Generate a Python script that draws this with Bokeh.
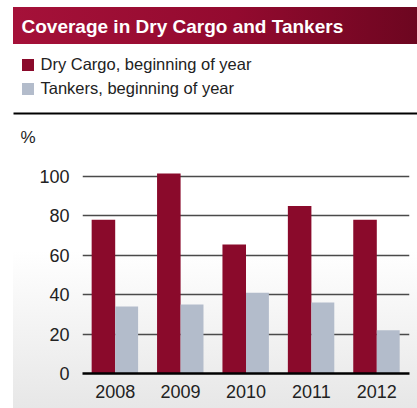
from bokeh.plotting import figure
from bokeh.models import (ColumnDataSource, FactorRange, Range1d, FixedTicker, Legend,
                          LegendItem, Label, BoxAnnotation)
from bokeh.layouts import column
from bokeh.transform import dodge
from bokeh.embed import file_html
from bokeh.resources import INLINE

title_text = "Coverage in Dry Cargo and Tankers"
years = ["2008", "2009", "2010", "2011", "2012"]
dry_cargo = [78, 101.5, 65.5, 85, 78]
tankers = [34, 35, 41, 36, 22]
series_names = ["Dry Cargo, beginning of year", "Tankers, beginning of year"]
y_ticks = [0, 20, 40, 60, 80, 100]
unit_label = "%"

FONT = "Liberation Sans"
DRY = "#8a0a2b"
TANK = "#b3bccb"
TXT = "#222222"

# ---------- header: title bar, legend, rule, unit label ----------
hdr = figure(width=417, height=150, x_range=Range1d(0, 417), y_range=Range1d(150, 0),
             x_axis_type=None, y_axis_type=None,
             output_backend="svg", toolbar_location=None,
             min_border=0, background_fill_color=None, border_fill_color=None,
             outline_line_color=None)
hdr.grid.visible = False
hdr.styles = {"background-image": "linear-gradient(to right, #a51139, #930a2f 55%, #6d0620)",
              "background-repeat": "no-repeat", "background-position": "13px 7px",
              "background-size": "404px 37px"}

hdr.add_layout(Label(x=21, y=25.5, text=title_text, text_font=FONT, text_font_size="19px",
                     text_font_style="bold", text_color="white", text_baseline="middle"))

# legend keys (zero-size glyphs, only their legend swatches are shown)
k1 = hdr.vbar(x=[0], top=[0], bottom=[0], width=0, fill_color=DRY, line_color=None)
k2 = hdr.vbar(x=[0], top=[0], bottom=[0], width=0, fill_color=TANK, line_color=None)
legend = Legend(items=[LegendItem(label=series_names[0], renderers=[k1]),
                       LegendItem(label=series_names[1], renderers=[k2])],
                location=(19.5, 52), margin=0, padding=0, spacing=5,
                glyph_width=15, glyph_height=15, label_standoff=6,
                label_text_font=FONT, label_text_font_size="16.5px", label_text_color=TXT,
                border_line_color=None, background_fill_color=None)
hdr.add_layout(legend, "center")

hdr.add_layout(BoxAnnotation(left=13, right=417, top=112, bottom=114,
                             fill_color="black", fill_alpha=1, line_color=None))
hdr.add_layout(Label(x=20, y=137, text=unit_label, text_font=FONT, text_font_size="17px",
                     text_color=TXT, text_baseline="middle"))

# ---------- main chart ----------
src = ColumnDataSource(dict(year=years, dry=dry_cargo, tank=tankers))

p = figure(x_range=FactorRange(*years, range_padding=0), y_range=Range1d(0, 113.2),
           width=417, height=258, output_backend="svg", toolbar_location=None,
           min_border_left=82, min_border_right=8, min_border_top=0, min_border_bottom=35,
           background_fill_color=None, border_fill_color=None, outline_line_color=None)
p.styles = {"background-image": "linear-gradient(to bottom, rgba(232,232,232,0) 39%, #e7e7e7 100%)",
            "background-repeat": "no-repeat", "background-position": "13px 0",
            "background-size": "404px 100%"}

p.vbar(x=dodge("year", -0.18, range=p.x_range), top="dry", width=0.36, source=src,
       fill_color=DRY, line_color=None)
p.vbar(x=dodge("year", 0.175, range=p.x_range), top="tank", width=0.35, source=src,
       fill_color=TANK, line_color=None)

p.xgrid.grid_line_color = None
p.ygrid.grid_line_color = "#4a4a4a"
p.ygrid.grid_line_width = 1.6
p.ygrid.ticker = FixedTicker(ticks=y_ticks)
p.yaxis.ticker = FixedTicker(ticks=y_ticks)

for ax in (p.xaxis[0], p.yaxis[0]):
    ax.major_tick_line_color = None
    ax.minor_tick_line_color = None
    ax.major_label_text_font = FONT
    ax.major_label_text_font_size = "18px"
    ax.major_label_text_color = TXT
p.yaxis.axis_line_color = None
p.yaxis.major_label_standoff = 7
p.xaxis.axis_line_color = "black"
p.xaxis.axis_line_width = 2.5
p.xaxis.major_label_standoff = 5

if "frame_align" in hdr.properties():
    hdr.frame_align = False
    p.frame_align = False
    layout = column(hdr, p, spacing=0)
else:
    layout = column(column(hdr, spacing=0), p, spacing=0)
open("out.html", "w").write(file_html(layout, INLINE))
